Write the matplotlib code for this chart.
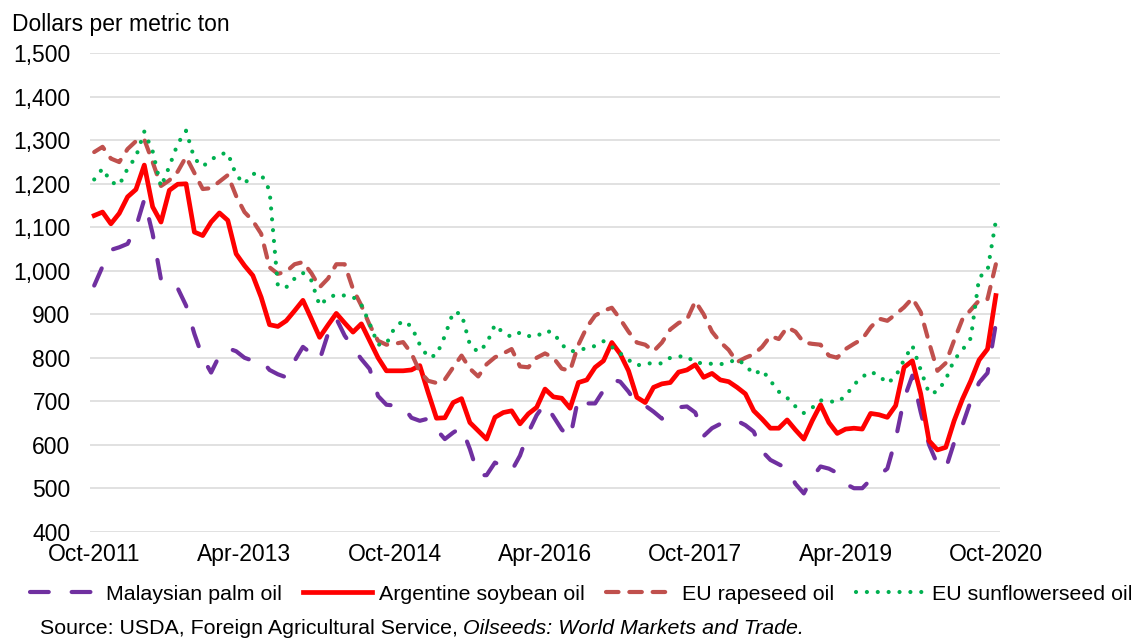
"""
Vegetable oil prices, Oct-2011 to Oct-2020 (monthly, USD per metric ton).
"""
import matplotlib
matplotlib.use("Agg")
import matplotlib.pyplot as plt
from matplotlib.ticker import FuncFormatter

plt.rcParams["font.family"] = ["Liberation Sans", "DejaVu Sans"]

# Data (one value per month)
palm = [966, 1010, 1048, 1054, 1062, 1100, 1164, 1085, 980, 980,
        960, 920, 855, 800, 766, 805, 822, 815, 800, 793,
        795, 772, 762, 755, 793, 825, 810, 795, 855, 890,
        851, 823, 797, 774, 712, 692, 690, 688, 662, 655,
        660, 635, 613, 628, 640, 590, 530, 530, 559, 550,
        540, 575, 628, 668, 695, 665, 635, 615, 709, 695,
        695, 725, 750, 745, 722, 694, 690, 676, 660, 670,
        686, 688, 674, 620, 638, 648, 655, 655, 645, 630,
        585, 565, 555, 545, 510, 488, 525, 550, 545, 535,
        510, 500, 500, 520, 530, 545, 613, 705, 759, 675,
        600, 555, 545, 605, 645, 701, 743, 765, 878]

soy = [1127, 1135, 1108, 1132, 1170, 1187, 1243, 1147, 1112, 1185,
       1199, 1200, 1089, 1081, 1112, 1133, 1116, 1039, 1012, 989,
       939, 876, 872, 885, 908, 932, 890, 847, 875, 902,
       880, 859, 878, 839, 800, 770, 770, 770, 772, 782,
       720, 661, 662, 697, 706, 651, 632, 613, 663, 674,
       678, 648, 671, 686, 728, 710, 707, 684, 743, 749,
       778, 793, 835, 809, 770, 709, 697, 732, 740, 743,
       767, 772, 784, 755, 764, 749, 745, 732, 717, 678,
       659, 638, 638, 657, 634, 613, 655, 692, 651, 626,
       636, 638, 636, 672, 669, 663, 690, 778, 793, 717,
       609, 588, 594, 655, 705, 747, 795, 820, 943]

rapeseed = [1273, 1285, 1258, 1250, 1280, 1298, 1302, 1250, 1195, 1208,
            1228, 1262, 1225, 1188, 1190, 1205, 1220, 1172, 1135, 1115,
            1085, 1008, 993, 998, 1015, 1020, 995, 962, 982, 1015,
            1015, 958, 920, 875, 839, 830, 832, 836, 810, 768,
            747, 742, 750, 778, 805, 775, 757, 785, 801, 810,
            820, 780, 778, 800, 810, 800, 775, 770, 830, 870,
            897, 908, 915, 889, 860, 835, 830, 815, 835, 865,
            880, 888, 930, 900, 860, 836, 818, 790, 800, 808,
            825, 850, 843, 870, 860, 835, 832, 830, 805, 800,
            820, 832, 843, 870, 890, 885, 900, 916, 937, 905,
            835, 770, 788, 840, 889, 910, 932, 935, 1015]

sunflower = [1210, 1235, 1204, 1197, 1235, 1262, 1320, 1275, 1193, 1240,
             1292, 1322, 1258, 1240, 1255, 1268, 1271, 1220, 1200, 1223,
             1222, 1185, 965, 962, 982, 995, 978, 920, 938, 945,
             943, 940, 922, 878, 830, 832, 870, 885, 872, 830,
             801, 806, 850, 905, 901, 830, 813, 832, 876, 857,
             848, 858, 850, 849, 862, 858, 830, 815, 816, 823,
             827, 838, 825, 810, 795, 782, 787, 787, 787, 800,
             803, 803, 788, 788, 786, 785, 789, 797, 783, 762,
             772, 747, 722, 708, 688, 673, 685, 702, 700, 698,
             712, 738, 756, 768, 759, 741, 757, 795, 828, 772,
             718, 722, 750, 795, 818, 845, 985, 1000, 1115]

tick_labels = ["Oct-2011", "Apr-2013", "Oct-2014", "Apr-2016",
               "Oct-2017", "Apr-2019", "Oct-2020"]

months = list(range(len(soy)))

# Plot
fig = plt.figure(figsize=(11.31, 6.41), dpi=100)
ax = fig.add_axes([0.0796, 0.1705, 0.8046, 0.7463])

ax.plot(months, palm, color="#7030a0", linewidth=3.0,
        linestyle=(0, (4.5, 5.5)), dash_capstyle="round",
        label="Malaysian palm oil")
ax.plot(months, soy, color="#ff0000", linewidth=3.4,
        solid_joinstyle="round", label="Argentine soybean oil")
ax.plot(months, rapeseed, color="#c0504d", linewidth=3.0,
        linestyle=(0, (3, 2.6)), dash_capstyle="round",
        label="EU rapeseed oil")
ax.plot(months, sunflower, color="#00b050", linewidth=3.0,
        linestyle=(0, (0.01, 2.6)), dash_capstyle="round",
        label="EU sunflowerseed oil")

ax.set_xlim(-0.5, len(months) - 0.5)
ax.set_ylim(400, 1500)
ax.set_yticks(range(400, 1501, 100))
ax.yaxis.set_major_formatter(FuncFormatter(lambda v, p: f"{int(v):,}"))
ax.set_xticks(range(0, len(months), 18))
ax.set_xticklabels(tick_labels)

ax.grid(axis="y", color="#d9d9d9", linewidth=1.1)
ax.set_axisbelow(True)
for s in ax.spines.values():
    s.set_visible(False)
ax.tick_params(axis="both", length=0, labelsize=16.5, colors="black")
ax.tick_params(axis="y", pad=14)
ax.tick_params(axis="x", pad=8)

fig.text(12 / 1131, 1 - 25 / 641, "Dollars per metric ton",
         fontsize=16.5, ha="left", va="center")

fig.legend(loc="center", bbox_to_anchor=(0.5137, 1 - 594 / 641), ncol=4,
           frameon=False, fontsize=15.4, handlelength=3.2,
           handletextpad=0.35, columnspacing=1.0, borderpad=0)

src = fig.text(40 / 1131, 1 - 629 / 641,
               "Source: USDA, Foreign Agricultural Service,",
               fontsize=15.4, ha="left", va="center")
fig.canvas.draw()
bb = src.get_window_extent()
fig.text((bb.x1 + 5) / 1131, 1 - 629 / 641,
         "Oilseeds: World Markets and Trade.",
         fontsize=15.4, style="italic", ha="left", va="center")

fig.savefig("out.png", dpi=100)
